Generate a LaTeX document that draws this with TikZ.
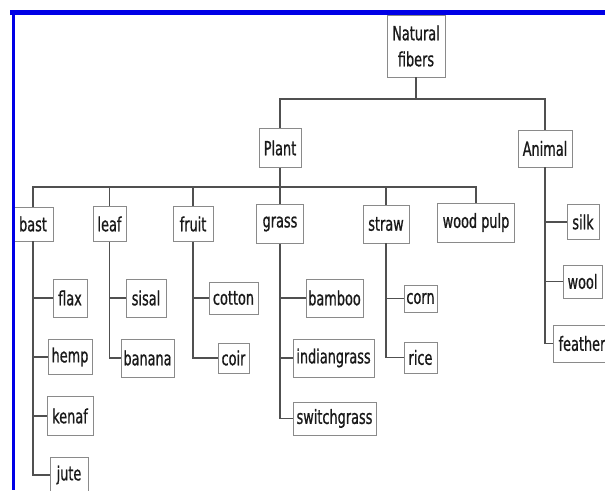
\documentclass[tikz,border=0pt]{standalone}
\usepackage{fontspec}
\setmainfont{DejaVu Sans}[FakeStretch=0.66,FakeBold=0.8]
\definecolor{boxc}{HTML}{8A8A8A}
\definecolor{linec}{HTML}{505050}
\definecolor{framec}{HTML}{0000E6}
\newcommand{\bx}[6]{\node[fbox, minimum width=#4pt, minimum height=#5pt] (#1) at (#2pt,-#3pt) {#6};}
\begin{document}
\begin{tikzpicture}[x=1pt,y=1pt,
  fbox/.style={draw=boxc, line width=0.9pt, fill=white, inner sep=0pt, align=center, text=black!90,
    font=\fontsize{19.5}{26}\selectfont},
  conn/.style={draw=linec, line width=1.7pt}]
\useasboundingbox (0,0) rectangle (605,-490);
\fill[white] (0,0) rectangle (605,-490);
% level 0/1
\bx{nat}{416}{46}{58}{62}{Natural\\fibers}
\bx{plant}{280}{148}{42}{39}{Plant}
\bx{animal}{545}{148.5}{54}{37}{Animal}
% level 2
\bx{bast}{33}{224}{40}{34}{bast}
\bx{leaf}{109.5}{224}{33}{35}{leaf}
\bx{fruit}{193}{224}{40}{35}{fruit}
\bx{grass}{280}{224}{47}{39}{grass}
\bx{straw}{386}{224}{46}{38}{straw}
\bx{wood}{476}{222.5}{77}{39}{wood pulp}
% animal children
\bx{silk}{583}{222}{32}{35}{silk}
\bx{wool}{582.5}{281.5}{39}{33}{wool}
\bx{feather}{582}{343.5}{58}{37}{feather}
% bast children
\bx{flax}{70}{298}{34}{38}{flax}
\bx{hemp}{70}{357}{44}{35}{hemp}
\bx{kenaf}{70}{416}{46}{39}{kenaf}
\bx{jute}{69}{475}{38}{36}{jute}
% leaf children
\bx{sisal}{146}{298}{40}{38}{sisal}
\bx{banana}{147.5}{358}{53}{38}{banana}
% fruit children
\bx{cotton}{233.5}{298}{49}{32}{cotton}
\bx{coir}{233.5}{358}{31}{30}{coir}
% grass children
\bx{bamboo}{334.5}{298}{57}{38}{bamboo}
\bx{indian}{333.5}{358}{81}{38}{indiangrass}
\bx{switch}{334.5}{418.5}{83}{33}{switchgrass}
% straw children
\bx{corn}{420.5}{298.5}{33}{27}{corn}
\bx{rice}{420.5}{357.5}{33}{31}{rice}
% connectors
\coordinate (h1) at (0,-99);
\coordinate (h2) at (0,-187);
\draw[conn] (nat.south) -- (nat.south |- h1);
\draw[conn] (plant.north) -- (plant.north |- h1) -- (animal.north |- h1) -- (animal.north);
\draw[conn] (plant.south) -- (plant.south |- h2);
\draw[conn] (bast.north) -- (bast.north |- h2) -- (wood.north |- h2) -- (wood.north);
\foreach \c in {leaf,fruit,grass,straw}{\draw[conn] (\c.north) -- (\c.north |- h2);}
% children trunks
\draw[conn] (bast.south) -- (bast.south |- jute.west) -- (jute.west);
\foreach \c in {flax,hemp,kenaf}{\draw[conn] (bast.south |- \c.west) -- (\c.west);}
\draw[conn] (leaf.south) -- (leaf.south |- banana.west) -- (banana.west);
\draw[conn] (leaf.south |- sisal.west) -- (sisal.west);
\draw[conn] (fruit.south) -- (fruit.south |- coir.west) -- (coir.west);
\draw[conn] (fruit.south |- cotton.west) -- (cotton.west);
\draw[conn] (grass.south) -- (grass.south |- switch.west) -- (switch.west);
\foreach \c in {bamboo,indian}{\draw[conn] (grass.south |- \c.west) -- (\c.west);}
\draw[conn] (straw.south) -- (straw.south |- rice.west) -- (rice.west);
\draw[conn] (straw.south |- corn.west) -- (corn.west);
\draw[conn] (animal.south) -- (animal.south |- feather.west) -- (feather.west);
\foreach \c in {silk,wool}{\draw[conn] (animal.south |- \c.west) -- (\c.west);}
% blue frame
\fill[framec] (10,-10) rectangle (605,-15);
\fill[framec] (11.5,-10) rectangle (15,-490);
\end{tikzpicture}
\end{document}
